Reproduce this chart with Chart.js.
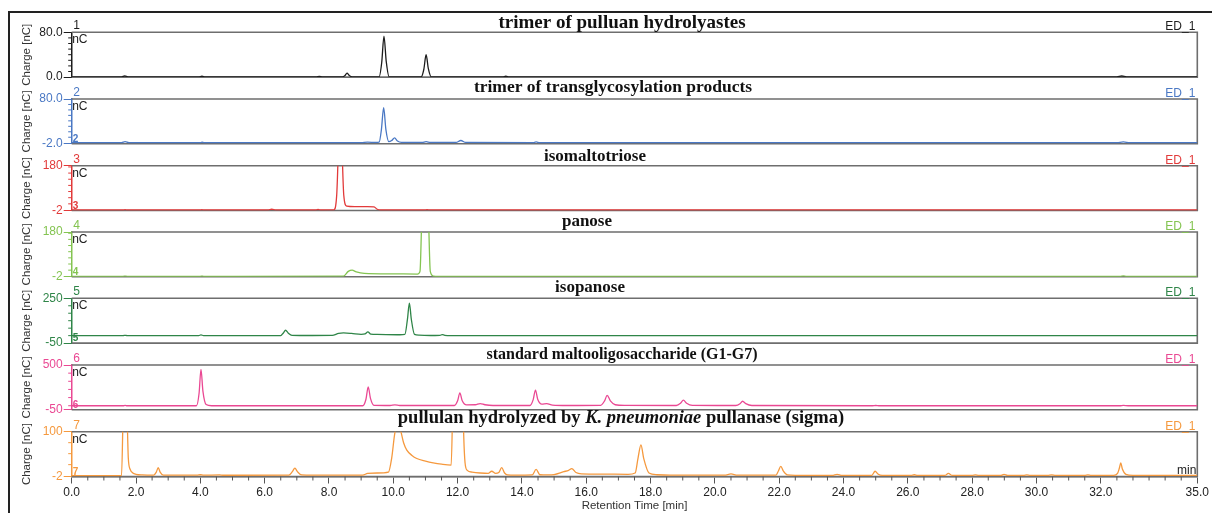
<!DOCTYPE html>
<html>
<head>
<meta charset="utf-8">
<script src="https://cdn.jsdelivr.net/npm/chart.js@4.4.1/dist/chart.umd.min.js"></script>
<style>
  html, body { margin: 0; padding: 0; background: #fff; }
  #wrap { position: relative; width: 1212px; height: 513px; overflow: hidden; }
  #wrap canvas { position: absolute; left: 0; top: 0; }
  #frame { position: absolute; left: 8px; top: 11px; width: 1210px; height: 510px;
           border-top: 2px solid #222; border-left: 2px solid #222; }
</style>
</head>
<body>
<div id="wrap"><div id="frame"></div></div>
<script>
// [retention time (min), charge (nC)]
const trace1 = [[0,0.5],[1.55,0.5],[1.65,2],[1.75,0.5],[3.95,0.5],[4.05,1.5],[4.15,0.5],[7.6,0.5],[7.7,1.2],[7.8,0.5],
  [8.42,0.5],[8.5,3],[8.56,7],[8.63,3],[8.72,0.5],[9.56,0.5],[9.64,26],[9.71,73],[9.78,28],[9.87,0.5],
  [10.87,0.5],[10.95,14],[11.02,40],[11.09,15],[11.18,0.5],[13.4,0.5],[13.5,1.5],[13.6,0.5],[32.5,0.5],[32.65,2],[32.8,0.5],[35,0.5]];
const trace2 = [[0,0],[1.55,0],[1.66,2],[1.78,0],[4.0,0],[4.05,0.8],[4.12,0],[9.0,0],[9.2,1],[9.45,0.5],[9.56,1],
  [9.63,24],[9.7,64],[9.77,24],[9.86,2],[9.95,4],[10.04,9],[10.13,3],[10.25,0.5],[10.9,0.5],[11.02,2],[11.15,0.5],
  [11.95,0.5],[12.1,4],[12.25,0.5],[14.35,0],[14.44,1.5],[14.55,0],[32.5,0],[32.7,1.5],[32.9,0],[35,0]];
const trace3 = [[0,0],[1.6,0],[1.66,1.5],[1.72,0],[4.0,0],[4.05,1],[4.1,0],[6.1,0],[6.22,3],[6.35,0],[7.55,0],[7.66,2],[7.77,0],
  [8.15,0.5],[8.24,60],[8.35,420],[8.46,60],[8.55,16],[8.8,14],[9.2,14],[9.4,13],[9.5,3],[9.6,0],
  [10.95,0],[11.05,1],[11.15,0],[35,0]];
const trace4 = [[0,0],[1.6,0],[1.66,1],[1.72,0],[4.0,0],[4.05,1],[4.1,0],[8.45,0.5],[8.6,20],[8.72,25],[8.85,18],[9.1,12],
  [10.0,10],[10.75,9],[10.83,20],[10.9,300],[10.99,400],[11.08,300],[11.15,20],[11.25,1],[11.4,0],
  [32.6,0],[32.7,1.5],[32.8,0],[35,0]];
const trace5 = [[0,0],[1.6,0],[1.66,2],[1.72,0],[3.95,0],[4.02,5],[4.1,0],[6.5,0],[6.58,18],[6.65,36],[6.73,18],[6.85,2],
  [7.2,1],[8.1,2],[8.3,15],[8.45,18],[8.7,15],[9.0,9],[9.12,12],[9.21,25],[9.3,10],[9.5,8],[10.2,6],
  [10.36,8],[10.44,110],[10.5,218],[10.56,110],[10.66,8],[10.8,3],[11.3,1],[11.45,2],[11.52,7],[11.6,2],[11.8,0],[35,0]];
const trace6 = [[0,0],[1.6,0],[1.66,4],[1.72,0],[3.88,0],[3.96,150],[4.02,447],[4.08,180],[4.18,15],[4.35,0],
  [9.05,0],[9.15,80],[9.22,232],[9.29,90],[9.4,5],[9.9,3],[10.05,10],[10.2,3],[11.9,3],[12.0,60],[12.07,158],[12.14,65],
  [12.28,10],[12.55,12],[12.7,27],[12.85,12],[13.1,3],[14.25,3],[14.35,75],[14.42,192],[14.49,80],[14.62,20],[14.77,27],
  [14.95,8],[15.4,3],[16.45,5],[16.57,60],[16.65,126],[16.75,60],[16.9,12],[17.2,4],[18.8,3],[18.93,30],[19.02,68],
  [19.12,30],[19.3,4],[20.65,3],[20.78,25],[20.86,55],[20.96,25],[21.15,3],[24.9,0],[25.0,3],[25.1,0],
  [32.6,0],[32.7,4],[32.85,0],[35,0]];
const trace7 = [[0,0],[1.55,0],[1.6,150],[1.66,300],[1.72,150],[1.76,40],[1.82,14],[1.9,6],[2.0,3],[2.2,1.5],[2.55,1],
  [2.63,8],[2.69,18],[2.75,8],[2.85,1],[3.9,1],[4.0,2],[4.1,1],[4.6,1.5],[4.7,0.8],[6.75,1],[6.86,9],[6.94,17],[7.02,9],
  [7.15,1.5],[7.5,1],[9.05,1],[9.2,5],[9.5,6],[9.85,8],[9.95,40],[10.05,98],[10.12,110],[10.22,104],[10.32,75],[10.42,58],
  [10.58,46],[10.73,39],[11.0,33],[11.24,29],[11.5,26],[11.8,24],[11.86,200],[12.0,350],[12.14,250],[12.19,90],[12.23,30],
  [12.3,12],[12.45,8],[12.7,6],[12.95,5],[13.06,10],[13.18,5],[13.28,7],[13.37,18],[13.46,6],[13.55,1.5],[13.8,1],
  [14.32,1.5],[14.44,14],[14.56,2],[14.8,1.5],[15.0,2.5],[15.3,9],[15.45,12],[15.55,16],[15.68,7],[15.85,4],[16.5,3.5],
  [17.3,3],[17.52,6],[17.61,40],[17.7,70],[17.79,38],[17.95,6],[18.2,2],[18.6,1],[20.3,1],[20.5,4],[20.7,1],
  [21.9,1],[21.97,10],[22.05,21],[22.13,10],[22.25,1.5],[22.5,0.5],[23.65,0.5],[23.8,3],[23.95,0.5],[24.88,0.5],
  [24.98,10],[25.08,3],[25.2,0.5],[26.1,0.5],[26.2,2],[26.3,0.5],[27.15,0.5],[27.26,5],[27.38,0.5],[28.0,0.5],[28.1,1.5],
  [28.2,0.5],[28.9,0.5],[28.99,3],[29.1,0.5],[29.6,0.5],[29.7,1.5],[29.8,0.5],[30.35,0.5],[30.47,1.5],[30.6,0.5],
  [31.5,0.5],[31.6,1.5],[31.7,0.5],[32.4,0.5],[32.52,5],[32.58,18],[32.62,29],[32.67,15],[32.78,3],[33.0,0.5],[35,0.5]];

const traces = [trace1, trace2, trace3, trace4, trace5, trace6, trace7];

// title pieces: [text, italic]
const panelTitles = [
  [['trimer of pulluan hydrolyastes', false]],
  [['trimer of transglycosylation products', false]],
  [['isomaltotriose', false]],
  [['panose', false]],
  [['isopanose', false]],
  [['standard maltooligosaccharide (G1-G7)', false]],
  [['pullulan hydrolyzed by ', false], ['K. pneumoniae', true], [' pullanase (sigma)', false]]
];
const yMin = [0, -2, -2, -2, -50, -50, -2];
const yMax = [80, 80, 180, 180, 250, 500, 100];
const yTickText = [['0.0', '80.0'], ['-2.0', '80.0'], ['-2', '180'], ['-2', '180'], ['-50', '250'], ['-50', '500'], ['-2', '100']];
const xTicks = [0, 2, 4, 6, 8, 10, 12, 14, 16, 18, 20, 22, 24, 26, 28, 30, 32, 35];

// layout / style
const W = 1212, H = 513;
const plotLeft = 71.7, plotRight = 1197.3;
const panelTop = [32.3, 99, 165.7, 232, 298.3, 365, 431.7];
const panelH = 44.8;
const titleX = [622, 613, 595, 587, 590, 622, 621];
const titleBase = [27.5, 91.7, 160.7, 226, 291.7, 358.5, 422.7];
const titleSize = [19, 17.5, 17, 17, 17, 16, 18.5];
const yMinorStep = [10, 10, 25, 25, 50, 100, 25];
const colors = ['#1c1c1c', '#4a78c4', '#e23a3a', '#84c451', '#2f8548', '#ea4893', '#f5993e'];
const SANS = "'Liberation Sans', Arial, sans-serif";
const SERIF = "'Liberation Serif', 'Times New Roman', serif";

Chart.defaults.font.family = SANS;

function decor(i) {
  const last = i === traces.length - 1;
  return {
    id: 'decor' + i,
    beforeDatasetsDraw(chart) {
      const { ctx, chartArea: a } = chart;
      const ys = chart.scales.y;
      ctx.save();
      ctx.strokeStyle = '#6e6e6e';
      ctx.lineWidth = 1.6;
      ctx.beginPath();
      ctx.moveTo(a.left, a.top);
      ctx.lineTo(a.right, a.top);
      ctx.lineTo(a.right, a.bottom);
      ctx.lineTo(a.left, a.bottom);
      ctx.stroke();

      // short minor ticks on the y axis
      ctx.strokeStyle = colors[i];
      ctx.lineWidth = 1;
      const step = yMinorStep[i];
      const minPx = ys.getPixelForValue(yMin[i]);
      for (let v = Math.ceil(yMin[i] / step) * step; v < yMax[i]; v += step) {
        const py = ys.getPixelForValue(v);
        if (Math.abs(py - minPx) < 2) continue;
        ctx.beginPath();
        ctx.moveTo(a.left - 3.5, py);
        ctx.lineTo(a.left, py);
        ctx.stroke();
      }

      if (last) {
        const xs = chart.scales.x;
        ctx.strokeStyle = '#555';
        for (let v = 0.5; v < 35; v += 0.5) {
          if (xTicks.includes(v)) continue;
          const px = xs.getPixelForValue(v);
          ctx.beginPath();
          ctx.moveTo(px, a.bottom);
          ctx.lineTo(px, a.bottom + 4);
          ctx.stroke();
        }
      }
      ctx.restore();
    },
    afterDraw(chart) {
      const { ctx, chartArea: a } = chart;
      ctx.save();
      ctx.textBaseline = 'alphabetic';

      ctx.font = '12px ' + SANS;
      ctx.fillStyle = colors[i];
      ctx.textAlign = 'left';
      ctx.fillText(String(i + 1), a.left + 1.5, a.top - 3);
      ctx.textAlign = 'right';
      ctx.fillText('ED_1', a.right - 2, a.top - 2);

      ctx.fillStyle = '#222';
      ctx.textAlign = 'left';
      ctx.fillText('nC', a.left + 0.5, a.top + 11);

      if (i > 0) {
        ctx.font = 'bold 10px ' + SANS;
        ctx.fillStyle = colors[i];
        ctx.fillText(String(i + 1), a.left + 1, a.bottom - 2);
      }

      if (last) {
        ctx.font = '12px ' + SANS;
        ctx.fillStyle = '#222';
        ctx.textAlign = 'right';
        ctx.fillText('min', a.right - 1, a.bottom - 3);
      }

      // panel title
      const parts = panelTitles[i].map(([text, italic]) => {
        ctx.font = (italic ? 'italic ' : '') + 'bold ' + titleSize[i] + 'px ' + SERIF;
        return { text, font: ctx.font, w: ctx.measureText(text).width };
      });
      const total = parts.reduce((s, p) => s + p.w, 0);
      let x = titleX[i] - total / 2;
      ctx.fillStyle = '#111';
      ctx.textAlign = 'left';
      parts.forEach(p => {
        ctx.font = p.font;
        ctx.fillText(p.text, x, titleBase[i]);
        x += p.w;
      });
      ctx.restore();
    }
  };
}

const wrap = document.getElementById('wrap');

traces.forEach((trace, i) => {
  const last = i === traces.length - 1;
  const top = panelTop[i];
  const bottom = top + panelH;
  const canvas = document.createElement('canvas');
  canvas.width = W;
  canvas.height = H;
  wrap.appendChild(canvas);

  new Chart(canvas, {
    type: 'line',
    data: {
      datasets: [{
        data: trace,
        borderColor: colors[i],
        borderWidth: 1.3,
        pointRadius: 0,
        cubicInterpolationMode: 'monotone',
        clip: 0
      }]
    },
    options: {
      responsive: false,
      animation: false,
      devicePixelRatio: 1,
      events: [],
      layout: { padding: { left: 0, top: top, right: W - plotRight, bottom: last ? 0 : H - bottom } },
      plugins: { legend: { display: false }, tooltip: { enabled: false } },
      scales: {
        x: {
          type: 'linear',
          min: 0,
          max: 35,
          display: last,
          afterBuildTicks: s => { s.ticks = xTicks.map(v => ({ value: v })); },
          afterFit: s => { if (last) s.height = H - bottom; },
          ticks: {
            callback: v => Number(v).toFixed(1),
            color: '#222',
            font: { size: 12 },
            padding: 2,
            maxRotation: 0,
            autoSkip: false
          },
          grid: { drawOnChartArea: false, tickLength: 7, color: '#555' },
          border: { color: '#6e6e6e', width: 1.6 },
          title: {
            display: true,
            text: 'Retention Time [min]',
            color: '#333',
            font: { size: 11.5 },
            padding: { top: 0, bottom: 0 }
          }
        },
        y: {
          min: yMin[i],
          max: yMax[i],
          afterBuildTicks: s => { s.ticks = [{ value: yMin[i] }, { value: yMax[i] }]; },
          afterFit: s => { s.width = plotLeft; },
          ticks: {
            callback: (v, idx) => yTickText[i][idx],
            color: colors[i],
            font: { size: 12 },
            padding: 1,
            autoSkip: false
          },
          grid: { drawOnChartArea: false, tickLength: 8, color: colors[i] },
          border: { color: colors[i], width: 1.5 },
          title: {
            display: true,
            text: 'Charge [nC]',
            color: '#333',
            font: { size: 11.5 },
            padding: { top: 20, bottom: 0 }
          }
        }
      }
    },
    plugins: [decor(i)]
  });
});
</script>
</body>
</html>
